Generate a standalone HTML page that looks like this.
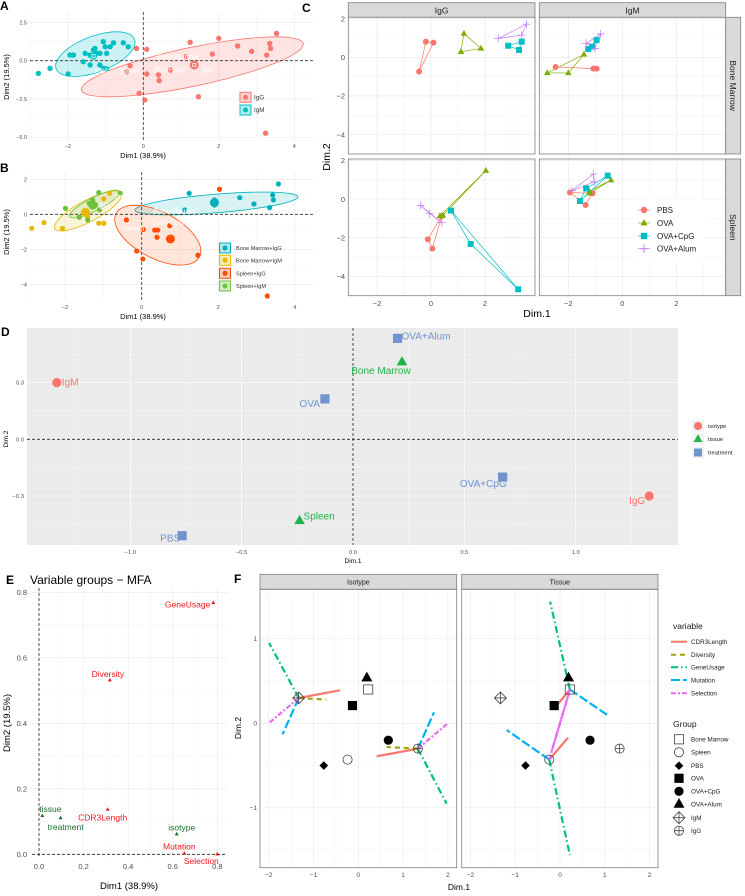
<!DOCTYPE html>
<html><head><meta charset="utf-8"><style>
html,body{margin:0;padding:0;background:#fff}
svg{display:block;font-family:"Liberation Sans",sans-serif}
</style></head><body>
<svg id="chart" width="745" height="896" viewBox="0 0 745 896" xmlns="http://www.w3.org/2000/svg"></svg>
<script>
// ---------- DATA ----------
// Panel A (individuals by isotype)
const aIgMX=[-2.78,-2.47,-1.99,-1.94,-1.85,-1.59,-1.54,-1.41,-1.32,-1.28,-1.24,-1.15,-1.06,-1.01,-0.97,-0.88,-0.79,-0.53,-0.40,-1.15,-1.06,-0.97,-1.41];
const aIgMY=[-0.83,-0.50,-0.87,0.37,0.37,-0.07,0.48,0.37,0.70,0.80,0.48,0.48,1.24,0.91,0.48,0.91,1.17,1.17,0.91,-0.28,-0.50,-0.54,-0.28];
const aIgGX=[-0.18,0.09,-0.35,-0.44,0.09,0.40,0.42,0.72,-0.11,0.04,1.46,1.24,1.83,2.00,2.50,2.87,3.27,3.35,3.37,3.53,1.12,3.24];
const aIgGY=[0.80,0.74,-0.33,-0.72,-0.87,-0.93,-1.30,-0.61,-2.13,-2.57,-2.35,1.20,0.43,1.46,0.96,0.61,0.37,1.13,0.80,1.78,0.26,-4.74];
const aCentX=[-1.32,1.35], aCentY=[0.30,-0.28];
const aGroups=['IgG','IgM'];
// Panel B
const bBMIgGX=[1.12,1.24,2.56,2.93,3.34,3.42,3.44,3.57,1.90,1.90];
const bBMIgGY=[0.25,1.20,0.95,0.59,0.38,1.10,0.82,1.73,0.82,0.53];
const bBMIgMX=[-2.87,-2.55,-2.07,-1.12,-0.99,-0.84,-0.99,-1.41];
const bBMIgMY=[-0.80,-0.48,-0.82,-0.51,-0.51,1.20,0.88,-0.13];
const bSpIgGX=[2.03,-0.40,0.04,0.34,0.42,0.40,0.73,-0.13,0.03,1.47,3.28];
const bSpIgGY=[1.43,-0.32,-0.86,-0.90,-0.90,-1.31,-0.65,-2.10,-2.55,-2.34,-4.67];
const bSpIgMX=[-1.99,-1.63,-1.41,-1.12,-0.56,-1.37,-1.28,-1.19,-1.10];
const bSpIgMY=[0.34,-0.17,-0.32,1.24,1.20,0.63,0.82,0.53,0.25];
const bCentX=[1.90,-1.47,0.75,-1.28], bCentY=[0.67,0.11,-1.41,0.53];
const bGroups=['Bone Marrow+IgG','Bone Marrow+IgM','Spleen+IgG','Spleen+IgM'];
// Panel C (facet: [isotype col][tissue row][treatment])
const cTreat=['PBS','OVA','OVA+CpG','OVA+Alum'];
const cX=[ // col IgG, IgM ; row BM, Spleen
 [[[-0.19,0.09,-0.44],[1.22,1.11,1.85],[2.86,3.36,3.26],[2.49,3.36,3.54]],
  [[-0.12,0.05,0.40],[0.33,2.03,0.44],[0.74,1.47,3.23],[-0.38,-0.05,0.40]]],
 [[[-2.47,-1.07,-0.95],[-2.78,-2.0,-1.42],[-1.26,-1.11,-0.95],[-1.34,-1.01,-0.80]],
  [[-1.94,-1.36,-1.10],[-1.22,-0.42,-1.2],[-1.57,-1.34,-0.54],[-1.87,-1.07,-1.04]]]];
const cY=[
 [[[0.81,0.76,-0.74],[1.23,0.29,0.46],[0.60,0.81,0.38],[0.98,1.15,1.72]],
  [[-2.09,-2.57,-0.88],[-0.88,1.47,-0.85],[-0.60,-2.33,-4.68],[-0.34,-0.75,-1.23]]],
 [[[-0.50,-0.59,-0.59],[-0.81,-0.81,0.15],[0.43,0.55,0.89],[0.72,0.46,1.21]],
  [[0.34,-0.31,0.29],[0.40,0.98,0.30],[-0.10,0.55,1.21],[0.43,1.29,0.89]]]];
// Panel D
const dLabels=['IgM','IgG','Bone Marrow','Spleen','OVA+Alum','OVA','OVA+CpG','PBS'];
const dType=[0,0,1,1,2,2,2,2];
const dX=[-1.33,1.33,0.22,-0.24,0.20,-0.126,0.672,-0.767];
const dY=[0.30,-0.30,0.41,-0.43,0.534,0.214,-0.20,-0.51];
const dTypes=['isotype','tissue','treatment'];
// Panel E
const eLabels=['GeneUsage','Diversity','CDR3Length','tissue','treatment','isotype','Mutation','Selection'];
const eX=[0.782,0.318,0.308,0.015,0.097,0.618,0.652,0.80];
const eY=[0.768,0.532,0.137,0.118,0.111,0.062,0.003,0.001];
const eActive=[1,1,1,0,0,0,1,1];
// Panel F
const fVars=['CDR3Length','Diversity','GeneUsage','Mutation','Selection'];
const fGroups=['Bone Marrow','Spleen','PBS','OVA','OVA+CpG','OVA+Alum','IgM','IgG'];
const fPX=[0.22,-0.24,-0.77,-0.13,0.67,0.19,-1.33,1.33];
const fPY=[0.40,-0.43,-0.50,0.21,-0.20,0.54,0.30,-0.30];
const fIsoLevels=[6,7], fTisLevels=[0,1];
const fIsoEndX=[[-0.41,-0.71,-1.99,-1.69,-2.0],[0.41,0.63,1.97,1.69,2.0]];
const fIsoEndY=[[0.39,0.28,0.95,-0.13,0.0],[-0.39,-0.28,-0.95,0.13,0.0]];
const fTisEndX=[[-0.15,0.22,-0.22,1.08,-0.2],[0.18,-0.24,0.22,-1.19,0.2]];
const fTisEndY=[[0.16,0.40,1.44,0.09,-0.35],[-0.17,-0.43,-1.56,-0.08,0.35]];

// ---------- HELPERS ----------
const NS='http://www.w3.org/2000/svg';
const svg=document.getElementById('chart');
function mk(tag,a,p){const e=document.createElementNS(NS,tag);for(const k in a)e.setAttribute(k,a[k]);(p||svg).appendChild(e);return e;}
function tx(x,y,s,a,p){const e=mk('text',Object.assign({x:x,y:y},a),p);e.textContent=s;return e;}
function grp(name){const g=mk('g',{});return g;}
function lin(d0,d1,p0,p1){return v=>p0+(v-d0)*(p1-p0)/(d1-d0);}
function shape(p,type,cx,cy,r,fill,stroke,sw){
  let e;
  if(type==='circle') e=mk('circle',{cx:cx,cy:cy,r:r,fill:fill,stroke:stroke||'none','stroke-width':sw||1},p);
  else if(type==='triangle') e=mk('polygon',{points:`${cx},${cy-r*1.2} ${cx-r*1.1},${cy+r*0.75} ${cx+r*1.1},${cy+r*0.75}`,fill:fill,stroke:stroke||'none','stroke-width':sw||1},p);
  else if(type==='square') e=mk('rect',{x:cx-r,y:cy-r,width:2*r,height:2*r,fill:fill,stroke:stroke||'none','stroke-width':sw||1},p);
  else if(type==='diamond') e=mk('polygon',{points:`${cx},${cy-r*1.2} ${cx+r*1.2},${cy} ${cx},${cy+r*1.2} ${cx-r*1.2},${cy}`,fill:fill,stroke:stroke||'none','stroke-width':sw||1},p);
  else if(type==='plus') e=mk('path',{d:`M${cx-r*1.3},${cy}H${cx+r*1.3}M${cx},${cy-r*1.3}V${cy+r*1.3}`,stroke:fill,'stroke-width':sw||1,fill:'none'},p);
  else if(type==='diamondplus') e=mk('path',{d:`M${cx},${cy-r*1.3}L${cx+r*1.3},${cy}L${cx},${cy+r*1.3}L${cx-r*1.3},${cy}ZM${cx-r*1.3},${cy}H${cx+r*1.3}M${cx},${cy-r*1.3}V${cy+r*1.3}`,stroke:stroke,'stroke-width':sw||0.8,fill:'none'},p);
  else if(type==='circleplus') e=mk('path',{d:`M${cx-r},${cy}a${r},${r} 0 1,0 ${2*r},0a${r},${r} 0 1,0 ${-2*r},0M${cx-r},${cy}H${cx+r}M${cx},${cy-r}V${cy+r}`,stroke:stroke,'stroke-width':sw||0.8,fill:'none'},p);
  return e;
}
function ellipsePath(sx,sy,cx,cy,ax,ay,bx,by){
  let d='';for(let i=0;i<=48;i++){const t=i/48*2*Math.PI;const x=cx+ax*Math.cos(t)+bx*Math.sin(t),y=cy+ay*Math.cos(t)+by*Math.sin(t);d+=(i?'L':'M')+sx(x).toFixed(1)+','+sy(y).toFixed(1);}return d+'Z';
}
function gridLines(p,sx,sy,xv,yv,x0,x1,y0,y1,col){
  xv.forEach(v=>{const l=mk('line',{x1:sx(v),x2:sx(v),y1:y0,y2:y1,stroke:col,'stroke-width':0.6},p);
    });
  yv.forEach(v=>{const l=mk('line',{x1:x0,x2:x1,y1:sy(v),y2:sy(v),stroke:col,'stroke-width':0.6},p);
    });
}
function label(p,x,y,s,a,name){const t=tx(x,y,s,a,p);return t;}

// ---------- PANEL A ----------
(function(){
 const g=grp('panel-a-isotype-pca');
 const sx=lin(0,4,143.3,294.3), sy=lin(0,2.5,60.7,22.45);
 label(g,0,10,'A',{'font-size':12,'font-weight':'bold'},'panel-letter-a');
 gridLines(g,sx,sy,[-3,-1,1,3],[1.25,-1.25,-3.75],30,313,12,141,'#F4F4F4');
 gridLines(g,sx,sy,[-2,0,2,4],[2.5,0,-2.5,-5],30,313,12,141,'#E8E8E8');
 [-2,0,2,4].forEach(v=>label(g,sx(v),148,String(v).replace('-','−'),{'font-size':5.5,fill:'#4D4D4D','text-anchor':'middle'},'x-tick-label'));
 ['2.5','0.0','−2.5','−5.0'].forEach((s,i)=>label(g,27,sy([2.5,0,-2.5,-5][i])+2,s,{'font-size':5.5,fill:'#4D4D4D','text-anchor':'end'},'y-tick-label'));
 label(g,143,158,'Dim1 (38.9%)',{'font-size':7.5,'text-anchor':'middle'},'x-axis-title');
 label(g,0,0,'Dim2 (19.5%)',{'font-size':7.5,'text-anchor':'middle',transform:'translate(9,77) rotate(-90)'},'y-axis-title');
 const e1=mk('path',{d:ellipsePath(sx,sy,1.3,-0.4,2.94,1.52,0.106,-1.24),fill:'#F8766D','fill-opacity':0.2,stroke:'#F8766D','stroke-width':0.8},g);
 
 const e2=mk('path',{d:ellipsePath(sx,sy,-1.27,0.43,1.04,0.96,0.166,-1.10),fill:'#00BFC4','fill-opacity':0.2,stroke:'#00BFC4','stroke-width':0.8},g);
 
 const h=mk('line',{x1:30,x2:313,y1:sy(0),y2:sy(0),stroke:'#333','stroke-width':0.8,'stroke-dasharray':'3,2'},g);
 
 const v=mk('line',{x1:sx(0),x2:sx(0),y1:12,y2:141,stroke:'#333','stroke-width':0.8,'stroke-dasharray':'3,2'},g);
 
 aIgMX.forEach((x,i)=>{const c=shape(g,'circle',sx(x),sy(aIgMY[i]),2.7,'#00BFC4');});
 aIgGX.forEach((x,i)=>{const c=shape(g,'circle',sx(x),sy(aIgGY[i]),2.7,'#F8766D');});
 const cc=['#00BFC4','#F8766D'];
 aCentX.forEach((x,i)=>{const c=shape(g,'circle',sx(x),sy(aCentY[i]),i?4.5:3.5,cc[i]);
   const s=shape(g,'square',sx(x),sy(aCentY[i]),1.6,'none','#fff',0.7);});
 [['Alum',0.25,0.8],['Bone Marrow',0.35,0.1],['PBS',-1.28,-0.85],['Spleen',-0.65,-0.85],['OVA+CpG',0.27,-0.75],['IgG',1.55,-0.75]].forEach(a=>label(g,sx(a[1]),sy(a[2]),a[0],{'font-size':7,fill:'#fff'},'supplementary-label'));
 // legend
 aGroups.forEach((n,i)=>{const y=[97.3,110][i],col=['#F8766D','#00BFC4'][i];
  const r=mk('rect',{x:240,y:y-5,width:11,height:10,fill:col,'fill-opacity':0.3,stroke:col},g);
  const c=shape(g,'circle',245.5,y,2.5,col);
  label(g,254,y+2.2,n,{'font-size':6.3,fill:'#333'},'legend-entry');});
})();

// ---------- PANEL B ----------
(function(){
 const g=grp('panel-b-tissue-isotype-pca');
 const sx=lin(0,2,141.7,218.3), sy=lin(0,2,214.3,179.3);
 label(g,0,172,'B',{'font-size':12,'font-weight':'bold'},'panel-letter-b');
 gridLines(g,sx,sy,[-3,-1,1,3],[1,-1,-3],30,313,172,300,'#F4F4F4');
 gridLines(g,sx,sy,[-2,0,2,4],[2,0,-2,-4],30,313,172,300,'#E8E8E8');
 [-2,0,2,4].forEach(v=>label(g,sx(v),309,String(v).replace('-','−'),{'font-size':5.5,fill:'#4D4D4D','text-anchor':'middle'},'x-tick-label'));
 [2,0,-2,-4].forEach(v=>label(g,27,sy(v)+2,String(v).replace('-','−'),{'font-size':5.5,fill:'#4D4D4D','text-anchor':'end'},'y-tick-label'));
 label(g,143,319,'Dim1 (38.9%)',{'font-size':7.5,'text-anchor':'middle'},'x-axis-title');
 label(g,0,0,'Dim2 (19.5%)',{'font-size':7.5,'text-anchor':'middle',transform:'translate(9,232) rotate(-90)'},'y-axis-title');
 const cols=['#00AFBB','#E7B800','#FC4E07','#6DC23A'];
 const ells=[[1.95,0.62,2.13,0.38,0.02,-0.53],[-1.40,0.19,0.87,1.01,0.13,-0.54],[0.42,-1.19,1.09,-1.24,-0.28,-1.18],[-1.23,0.59,0.65,0.72,0.078,-0.34]];
 ells.forEach((e,i)=>{const p=mk('path',{d:ellipsePath(sx,sy,...e),fill:cols[i],'fill-opacity':0.15,stroke:cols[i],'stroke-width':0.8},g);});
 const h=mk('line',{x1:30,x2:313,y1:sy(0),y2:sy(0),stroke:'#333','stroke-width':0.8,'stroke-dasharray':'3,2'},g);
 const v=mk('line',{x1:sx(0),x2:sx(0),y1:172,y2:300,stroke:'#333','stroke-width':0.8,'stroke-dasharray':'3,2'},g);
 const sets=[[bBMIgGX,bBMIgGY],[bBMIgMX,bBMIgMY],[bSpIgGX,bSpIgGY],[bSpIgMX,bSpIgMY]];
 sets.forEach((s,k)=>s[0].forEach((x,i)=>{const c=shape(g,'circle',sx(x),sy(s[1][i]),2.6,cols[k]);}));
 bCentX.forEach((x,i)=>{const c=shape(g,'circle',sx(x),sy(bCentY[i]),4.5,cols[i]);});
 [['OVA',-0.7,0.85],['IgG',-1.15,0.4],['Bone Marrow',0.3,0.05],['OVA+CpG',0.25,-0.6],['Spleen',-0.5,-0.95]].forEach(a=>label(g,sx(a[1]),sy(a[2]),a[0],{'font-size':7,fill:'#fff'},'supplementary-label'));
 bGroups.forEach((n,i)=>{const y=[248,260.3,273.3,286][i];
  const r=mk('rect',{x:219.5,y:y-5,width:11,height:10,fill:cols[i],'fill-opacity':0.3,stroke:cols[i]},g);
  const c=shape(g,'circle',225,y,2.5,cols[i]);
  label(g,236,y+2,n,{'font-size':5.6,fill:'#333'},'legend-entry');});
})();

// ---------- PANEL C ----------
(function(){
 const g=grp('panel-c-facet-scatter');
 label(g,302,12,'C',{'font-size':12,'font-weight':'bold'},'panel-letter-c');
 const colX=[[348.3,535],[539.3,725.7]], x0s=[431,622.3];
 const rowY=[[17.3,154],[159,295.7]], y0s=[57.3,199];
 const colN=['IgG','IgM'], rowN=['Bone Marrow','Spleen'];
 const tcol=['#F8766D','#7CAE00','#00BFC4','#C77CFF'], tshape=['circle','triangle','square','plus'];
 for(let c=0;c<2;c++){
  const st=mk('rect',{x:colX[c][0],y:2.7,width:colX[c][1]-colX[c][0],height:14.6,fill:'#D9D9D9',stroke:'#7F7F7F','stroke-width':0.8},g);
  
  label(g,(colX[c][0]+colX[c][1])/2,13.3,colN[c],{'font-size':8.5,'text-anchor':'middle',fill:'#1A1A1A'},'strip-label');
  for(let r=0;r<2;r++){
   const sx=lin(0,2,x0s[c],x0s[c]+54), sy=lin(0,2,y0s[r],y0s[r]-38.6);
   const bg=mk('rect',{x:colX[c][0],y:rowY[r][0],width:colX[c][1]-colX[c][0],height:rowY[r][1]-rowY[r][0],fill:'#fff'},g);
   
   gridLines(g,sx,sy,[-3,-1,1,3],[1,-1,-3],colX[c][0],colX[c][1],rowY[r][0],rowY[r][1],'#F2F2F2');
   gridLines(g,sx,sy,[-2,0,2],[2,0,-2,-4],colX[c][0],colX[c][1],rowY[r][0],rowY[r][1],'#E5E5E5');
   for(let t=0;t<4;t++){
    const xs=cX[c][r][t], ys=cY[c][r][t];
    const poly=mk('polygon',{points:xs.map((x,i)=>sx(x)+','+sy(ys[i])).join(' '),fill:'none',stroke:tcol[t],'stroke-width':0.7},g);
    
   }
   for(let t=0;t<4;t++){
    const xs=cX[c][r][t], ys=cY[c][r][t];
    xs.forEach((x,i)=>{const m=shape(g,tshape[t],sx(x),sy(ys[i]),3,tcol[t],null,t===3?0.8:1);
     });
   }
   const bd=mk('rect',{x:colX[c][0],y:rowY[r][0],width:colX[c][1]-colX[c][0],height:rowY[r][1]-rowY[r][0],fill:'none',stroke:'#7F7F7F','stroke-width':0.8},g);
   
   if(c===0){[2,0,-2,-4].forEach(v=>label(g,345,sy(v)+2.8,String(v).replace('-','−'),{'font-size':7.5,fill:'#4D4D4D','text-anchor':'end'},'y-tick-label'));}
   if(r===1){[-2,0,2].forEach(v=>label(g,sx(v),306,String(v).replace('-','−'),{'font-size':7.5,fill:'#4D4D4D','text-anchor':'middle'},'x-tick-label'));}
  }
 }
 for(let r=0;r<2;r++){
  const st=mk('rect',{x:725.7,y:rowY[r][0],width:15,height:rowY[r][1]-rowY[r][0],fill:'#D9D9D9',stroke:'#7F7F7F','stroke-width':0.8},g);
  
  label(g,0,0,rowN[r],{'font-size':8.5,'text-anchor':'middle',fill:'#1A1A1A',transform:`translate(730,${(rowY[r][0]+rowY[r][1])/2}) rotate(90)`},'strip-label');
 }
 label(g,537,317,'Dim.1',{'font-size':10.5,'text-anchor':'middle'},'x-axis-title');
 label(g,0,0,'Dim.2',{'font-size':10.5,'text-anchor':'middle',transform:'translate(330,157) rotate(-90)'},'y-axis-title');
 const lb=mk('rect',{x:634,y:199,width:72,height:62,fill:'#fff'},g);
 cTreat.forEach((n,t)=>{const y=[210,223,236,248.7][t];
  const ln=mk('line',{x1:638,x2:650,y1:y,y2:y,stroke:tcol[t],'stroke-width':0.7},g);
  const m=shape(g,tshape[t],644,y,3.2,tcol[t]);
  label(g,657,y+3,n,{'font-size':8,fill:'#1A1A1A'},'legend-entry');});
})();

// ---------- PANEL D ----------
(function(){
 const g=grp('panel-d-category-map');
 label(g,1,336,'D',{'font-size':12,'font-weight':'bold'},'panel-letter-d');
 const sx=lin(0,1,353,575.7), sy=lin(0,0.3,439.3,382.6);
 const bg=mk('rect',{x:27,y:328,width:651,height:217,fill:'#EBEBEB'},g);
 gridLines(g,sx,sy,[-1.25,-0.75,-0.25,0.25,0.75,1.25],[0.45,0.15,-0.15,-0.45],27,678,328,545,'#F5F5F5');
 gridLines(g,sx,sy,[-1,-0.5,0,0.5,1],[0.3,0,-0.3],27,678,328,545,'#FFFFFF');
 const h=mk('line',{x1:27,x2:678,y1:sy(0),y2:sy(0),stroke:'#222','stroke-width':0.8,'stroke-dasharray':'3,2'},g);
 const v=mk('line',{x1:sx(0),x2:sx(0),y1:328,y2:545,stroke:'#222','stroke-width':0.8,'stroke-dasharray':'3,2'},g);
 [-1,-0.5,0,0.5,1].forEach(val=>label(g,sx(val),554,(val<0?'−':'')+Math.abs(val).toFixed(1),{'font-size':5.8,fill:'#4D4D4D','text-anchor':'middle'},'x-tick-label'));
 [0.3,0,-0.3].forEach(val=>label(g,24,sy(val)+2,(val<0?'−':'')+Math.abs(val).toFixed(1),{'font-size':5.8,fill:'#4D4D4D','text-anchor':'end'},'y-tick-label'));
 label(g,353,563,'Dim.1',{'font-size':6.5,'text-anchor':'middle'},'x-axis-title');
 label(g,0,0,'Dim.2',{'font-size':6.5,'text-anchor':'middle',transform:'translate(8,439) rotate(-90)'},'y-axis-title');
 const cols=['#F8766D','#22B24C','#7094CD'], shp=['circle','triangle','square'];
 const off=[[5,3,'start'],[-4,8,'end'],[-21,12,'middle'],[4,-1,'start'],[4,1,'start'],[-5,8,'end'],[4,10,'end'],[-2,6,'end']];
 dX.forEach((x,i)=>{const t=dType[i];
  const m=shape(g,shp[t],sx(x),sy(dY[i]),t===1?4.8:4.6,cols[t]);
  const o=off[i];label(g,sx(x)+o[0],sy(dY[i])+o[1],dLabels[i],{'font-size':10,fill:cols[t],'text-anchor':o[2]},'point-label');});
 dTypes.forEach((n,i)=>{const y=[426,439,452.5][i];
  const k=mk('rect',{x:692,y:y-6,width:12,height:12,fill:'#F2F2F2'},g);
  const m=shape(g,shp[i],698,y,4,cols[i]);
  label(g,708,y+2,n,{'font-size':5.8,fill:'#222'},'legend-entry');});
})();

// ---------- PANEL E ----------
(function(){
 const g=grp('panel-e-variable-groups');
 label(g,6,584,'E',{'font-size':12,'font-weight':'bold'},'panel-letter-e');
 label(g,30,584,'Variable groups − MFA',{'font-size':12},'chart-title');
 const sx=lin(0,0.8,39,217.3), sy=lin(0,0.8,854.3,592.3);
 gridLines(g,sx,sy,[0.1,0.3,0.5,0.7],[0.1,0.3,0.5,0.7],32,227,588,858,'#F4F4F4');
 gridLines(g,sx,sy,[0,0.2,0.4,0.6,0.8],[0,0.2,0.4,0.6,0.8],32,227,588,858,'#E8E8E8');
 const h=mk('line',{x1:32,x2:227,y1:sy(0),y2:sy(0),stroke:'#222','stroke-width':0.8,'stroke-dasharray':'3,2'},g);
 const v=mk('line',{x1:sx(0),x2:sx(0),y1:588,y2:858,stroke:'#222','stroke-width':0.8,'stroke-dasharray':'3,2'},g);
 [0,0.2,0.4,0.6,0.8].forEach(val=>label(g,sx(val),869,val.toFixed(1),{'font-size':7.5,fill:'#4D4D4D','text-anchor':'middle'},'x-tick-label'));
 [0,0.2,0.4,0.6,0.8].forEach(val=>label(g,27,sy(val)+2.6,val.toFixed(1),{'font-size':7.5,fill:'#4D4D4D','text-anchor':'end'},'y-tick-label'));
 label(g,129,889,'Dim1 (38.9%)',{'font-size':9.5,'text-anchor':'middle'},'x-axis-title');
 label(g,0,0,'Dim2 (19.5%)',{'font-size':9.5,'text-anchor':'middle',transform:'translate(10,723) rotate(-90)'},'y-axis-title');
 const off=[[-3,4.5,'end'],[-2,-3,'middle'],[-5,11,'middle'],[8,-3.5,'middle'],[5,12,'middle'],[5,-3.5,'middle'],[-5,-4,'middle'],[-16,10,'middle']];
 eX.forEach((x,i)=>{const col=eActive[i]?'#F0141E':'#1E6B2E';
  const m=shape(g,'triangle',sx(x),sy(eY[i]),1.8,col);
  const o=off[i];label(g,sx(x)+o[0],sy(eY[i])+o[1],eLabels[i],{'font-size':8.5,fill:col,'text-anchor':o[2]},'point-label');});
})();

// ---------- PANEL F ----------
(function(){
 const g=grp('panel-f-partial-axes');
 label(g,234,583,'F',{'font-size':12,'font-weight':'bold'},'panel-letter-f');
 const colX=[[260,456.7],[461.7,658]], x0s=[358.3,560], names=['Isotype','Tissue'];
 const sy=lin(0,1,723.3,638.8);
 const vcol=['#F8766D','#A3A500','#00BF7D','#00B0F6','#E76BF3'];
 const vdash=['none','5,4','7,3,1.5,3','9,3','5,2,2,2'];
 const gshape=['square','circle','diamond','square','circle','triangle','diamondplus','circleplus'];
 const gfill=['none','none','#000','#000','#000','#000','none','none'];
 for(let c=0;c<2;c++){
  const sx=lin(0,1,x0s[c],x0s[c]+44.8);
  const st=mk('rect',{x:colX[c][0],y:574.3,width:colX[c][1]-colX[c][0],height:15,fill:'#D9D9D9',stroke:'#7F7F7F','stroke-width':0.8},g);
  
  label(g,(colX[c][0]+colX[c][1])/2,584.5,names[c],{'font-size':7,'text-anchor':'middle',fill:'#1A1A1A'},'strip-label');
  gridLines(g,sx,sy,[-1.5,-0.5,0.5,1.5],[1.5,0.5,-0.5,-1.5],colX[c][0],colX[c][1],589.3,867.7,'#F4F4F4');
  gridLines(g,sx,sy,[-2,-1,0,1,2],[1,0,-1],colX[c][0],colX[c][1],589.3,867.7,'#E8E8E8');
  const lv=c===0?fIsoLevels:fTisLevels, ex=c===0?fIsoEndX:fTisEndX, ey=c===0?fIsoEndY:fTisEndY;
  lv.forEach((gi,k)=>fVars.forEach((vn,j)=>{
   const l=mk('line',{x1:sx(fPX[gi]),y1:sy(fPY[gi]),x2:sx(ex[k][j]),y2:sy(ey[k][j]),stroke:vcol[j],'stroke-width':2.2,'stroke-dasharray':vdash[j]},g);
   }));
  fGroups.forEach((n,i)=>{
   const r=gshape[i]==='triangle'?5:(gshape[i]==='diamond'?3.6:4.6);
   const m=shape(g,gshape[i],sx(fPX[i]),sy(fPY[i]),r,gfill[i],gfill[i]==='none'?'#444':null,0.8);
   });
  const bd=mk('rect',{x:colX[c][0],y:589.3,width:colX[c][1]-colX[c][0],height:278.4,fill:'none',stroke:'#7F7F7F','stroke-width':0.8},g);
  
  [-2,-1,0,1,2].forEach(v=>label(g,sx(v),877,String(v).replace('-','−'),{'font-size':6.5,fill:'#4D4D4D','text-anchor':'middle'},'x-tick-label'));
 }
 [1,0,-1].forEach(v=>label(g,257,sy(v)+2.3,String(v).replace('-','−'),{'font-size':6.5,fill:'#4D4D4D','text-anchor':'end'},'y-tick-label'));
 label(g,459,890,'Dim.1',{'font-size':8.5,'text-anchor':'middle'},'x-axis-title');
 label(g,0,0,'Dim.2',{'font-size':8.5,'text-anchor':'middle',transform:'translate(241,728) rotate(-90)'},'y-axis-title');
 label(g,673,629,'variable',{'font-size':8.5,fill:'#1A1A1A'},'legend-title-variable');
 fVars.forEach((n,j)=>{const y=[641.7,654.7,667.3,680,693.3][j];
  const l=mk('line',{x1:671,x2:687,y1:y,y2:y,stroke:vcol[j],'stroke-width':2,'stroke-dasharray':vdash[j]},g);
  label(g,691,y+2.3,n,{'font-size':6.3,fill:'#1A1A1A'},'legend-entry');});
 label(g,673,727,'Group',{'font-size':8.5,fill:'#1A1A1A'},'legend-title-group');
 fGroups.forEach((n,i)=>{const y=[739.3,752.3,765.7,778.3,791.3,804,817.7,830.7][i];
  const r=gshape[i]==='triangle'?5:(gshape[i]==='diamond'?3.6:4.6);
  const m=shape(g,gshape[i],679,y,r,gfill[i],gfill[i]==='none'?'#444':null,0.8);
  label(g,691,y+2.3,n,{'font-size':6.3,fill:'#1A1A1A'},'legend-entry');});
})();
</script>
</body></html>
